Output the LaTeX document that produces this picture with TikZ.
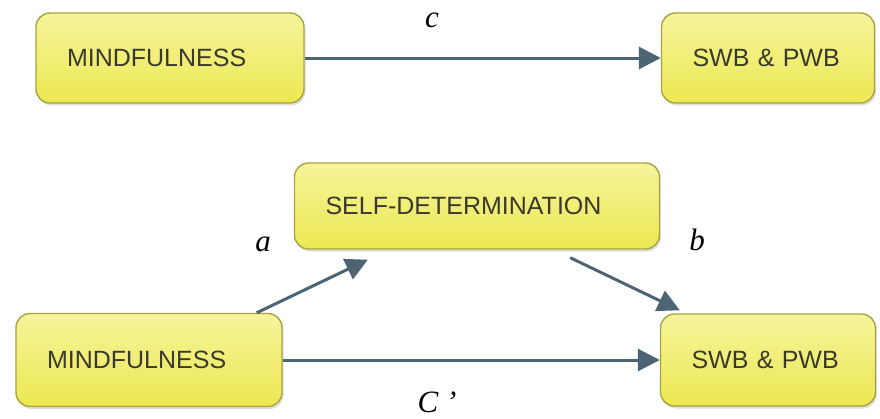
\documentclass[tikz,border=0pt]{standalone}
\usepackage{fontspec}
\setmainfont{Liberation Serif}
\setsansfont{Liberation Sans}
\usetikzlibrary{arrows.meta,shadows}

\definecolor{boxline}{HTML}{A9A33E}
\definecolor{boxtop}{HTML}{F6F49C}
\definecolor{boxbottom}{HTML}{ECE852}
\definecolor{boxtext}{HTML}{3A3A2C}
\definecolor{arrowcol}{HTML}{4D6475}

\begin{document}
\begin{tikzpicture}[x=1pt, y=-1pt,
	varbox/.style={rectangle, rounded corners=14pt, draw=boxline, line width=1.4pt,
		top color=boxtop, bottom color=boxbottom, text=boxtext,
		drop shadow={opacity=0.25, shadow xshift=1.5pt, shadow yshift=-2.5pt},
		font=\sffamily\fontsize{25}{28}\selectfont, align=left,
		inner xsep=31pt, inner ysep=0pt, minimum height=90pt},
	path/.style={draw=arrowcol, line width=3pt, -{Triangle[length=22pt, width=22pt]}},
	coef/.style={font=\itshape\fontsize{31}{33}\selectfont}]
			% \draw[help lines] (0,0) grid (880,418);
			\useasboundingbox (0,0) rectangle (880,418);

			\node[varbox, text width=206pt] (mindTop) at (170,58) {MINDFULNESS};
			\node[varbox, text width=151pt] (swbTop) at (768,58) {SWB \& PWB};

			\node[varbox, text width=303pt, minimum height=86pt] (selfdet) at (477,206) {SELF-DETERMINATION};
			\node[varbox, text width=204pt, minimum height=93pt] (mindBot) at (149,360) {MINDFULNESS};
			\node[varbox, text width=153pt, minimum height=92pt] (swbBot) at (768,360) {SWB \& PWB};

			\draw[path] (mindTop) -- (swbTop);
			\draw[path] (mindBot) -- (swbBot);
			\draw[path] ([xshift=-26pt]mindBot.north east) -- ([xshift=74pt, yshift=-10pt]selfdet.south west);
			\draw[path] ([xshift=-90pt, yshift=-8pt]selfdet.south east) -- ([xshift=20pt, yshift=3pt]swbBot.north west);

			\node[coef] (pathC) at (432,20) {c};
			\node[coef] (pathA) at (263,244) {a};
			\node[coef] (pathB) at (697,240) {b};
			\node[coef] (pathCdash) at (437,402) {C ’};
		\end{tikzpicture}
\end{document}
